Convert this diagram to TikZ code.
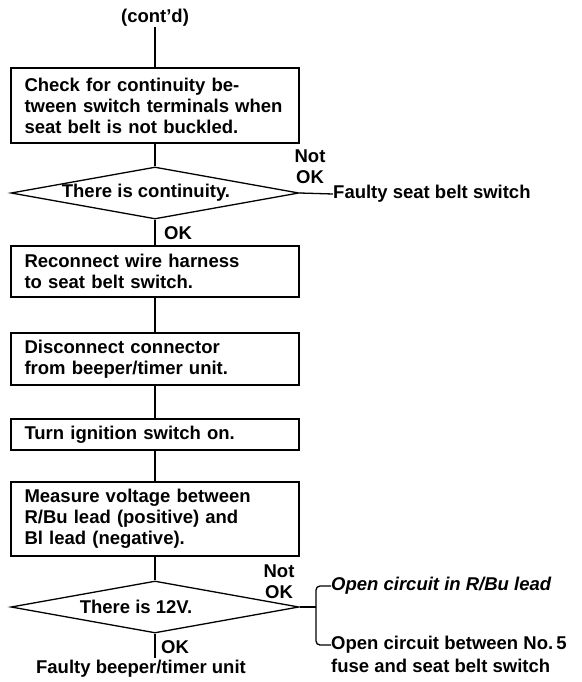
\documentclass[tikz,border=0pt]{standalone}
\usepackage{fontspec}
\setmainfont{Liberation Sans}
\usetikzlibrary{shapes.geometric}
\begin{document}
\begin{tikzpicture}[x=1pt,y=-1pt,
  txt/.style={font=\fontsize{18.5}{21}\selectfont\bfseries, inner sep=0pt},
  stepbox/.style={txt, draw, line width=1.3pt, rectangle, text width=261pt,
    inner xsep=13.5pt, inner ysep=0pt, align=left},
  decision/.style={draw, line width=1.3pt, diamond, aspect=5.5,
    minimum width=288pt, minimum height=52pt, inner sep=0pt},
  wire/.style={line width=1.3pt}
]
\useasboundingbox (0,0) rectangle (581,682);

% main column
\node[txt] (cont) at (155,18) {(cont’d)};
\node[stepbox, minimum height=75pt] (b1) at (155,105.5)
  {Check for continuity be-\\tween switch terminals when\\seat belt is not buckled.};
\node[decision] (d1) at (155,193) {};
\node[txt] (t1) at (146,193) {There is continuity.};
\node[txt, align=center] (n1) at (310,167) {Not\\OK};
\node[txt, anchor=west] (f1) at (333,194) {Faulty seat belt switch};
\node[txt, anchor=west] (ok1) at (164,233) {OK};
\node[stepbox, minimum height=51pt] (b2) at (155,271.5)
  {Reconnect wire harness\\to seat belt switch.};
\node[stepbox, minimum height=52pt] (b3) at (155,359)
  {Disconnect connector\\from beeper/timer unit.};
\node[stepbox, minimum height=31pt] (b4) at (155,434.5)
  {Turn ignition switch on.};
\node[stepbox, minimum height=74pt] (b5) at (155,519)
  {Measure voltage between\\R/Bu lead (positive) and\\Bl lead (negative).};
\node[decision] (d2) at (155,607) {};
\node[txt] (t2) at (136,607) {There is 12V.};
\node[txt, align=center] (n2) at (279,582) {Not\\OK};
\node[txt, anchor=west] (ok2) at (161,647) {OK};
\node[txt] (fb) at (141,669) {Faulty beeper/timer unit};
\node[txt, anchor=west, font=\fontsize{18.5}{21}\selectfont\bfseries\itshape] (o1) at (331,586)
  {Open circuit in R/Bu lead};
\node[txt, anchor=west] (o2) at (331,645) {Open circuit between No.\,5};
\node[txt, anchor=west] (o3) at (331,666) {fuse and seat belt switch};
\coordinate (br) at (316,607);

% connectors
\draw[wire] (cont.south) -- (b1.north);
\draw[wire] (b1.south) -- (d1.north);
\draw[wire] (d1.south) -- (b2.north);
\draw[wire] (b2.south) -- (b3.north);
\draw[wire] (b3.south) -- (b4.north);
\draw[wire] (b4.south) -- (b5.north);
\draw[wire] (b5.south) -- (d2.north);
\draw[wire] (d2.south) -- ++(0,24);
\draw[wire] (d1.east) -- (f1.west);
\draw[wire] (d2.east) -- (br);
\draw[wire, rounded corners=4pt] (o1.west) -| (br) |- (o2.west);
\end{tikzpicture}
\end{document}
